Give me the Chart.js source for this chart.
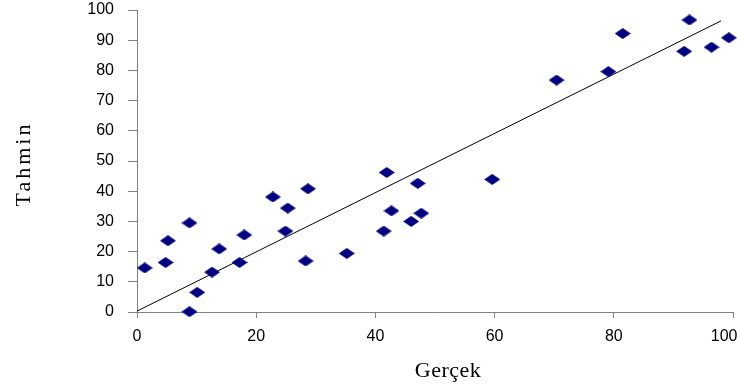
<!DOCTYPE html>
<html>
<head>
<meta charset="utf-8">
<script src="https://cdn.jsdelivr.net/npm/chart.js@4/dist/chart.umd.min.js"></script>
<style>
    html, body { margin: 0; padding: 0; overflow: hidden; background: #fff; }
    #wrap { width: 746px; height: 390px; }
</style>
</head>
<body>
<div id="wrap"><canvas id="chart"></canvas></div>
<script>
// values
const gercek = [1.3, 4.8, 5.2, 8.8, 8.8, 10.1, 12.6, 13.8, 17.2, 18.0, 22.8, 25.3, 24.9, 28.7, 28.3,
    35.2, 41.9, 47.1, 42.7, 47.7, 46.0, 41.4, 59.6, 70.4, 79.1, 81.5, 92.7, 91.8, 96.4, 99.3];
const tahmin = [14.6, 16.4, 23.6, 29.5, 0.1, 6.5, 13.2, 20.9, 16.4, 25.5, 38.1, 34.4, 26.8, 40.8, 16.9,
    19.4, 46.2, 42.6, 33.5, 32.7, 30.0, 26.8, 43.9, 76.8, 79.6, 92.2, 96.7, 86.3, 87.7, 90.8];
const trendX = [0, 98];
const trendY = [0.3, 96.4];
const xTicks = [0, 20, 40, 60, 80, 100];
const yTicks = [0, 10, 20, 30, 40, 50, 60, 70, 80, 90, 100];

// flat diamond marker
function diamond() {
    const c = document.createElement('canvas');
    c.width = 16; c.height = 11;
    const g = c.getContext('2d');
    g.fillStyle = '#000080';
    g.beginPath();
    g.moveTo(0, 5.5); g.lineTo(8, 0); g.lineTo(16, 5.5); g.lineTo(8, 11);
    g.closePath();
    g.fill();
    return c;
}

const axisTitles = {
    id: 'axisTitles',
    afterDraw(chart) {
        const ctx = chart.ctx;
        ctx.save();
        ctx.fillStyle = '#000';
        ctx.font = '22px "Liberation Serif", "Times New Roman", serif';
        ctx.textAlign = 'center';
        ctx.textBaseline = 'alphabetic';
        ctx.letterSpacing = '0.5px';
        ctx.fillText('Gerçek', 448, 377);
        ctx.translate(30, 166);
        ctx.rotate(-Math.PI / 2);
        ctx.letterSpacing = '3px';
        ctx.fillText('Tahmin', 2, 0);
        ctx.restore();
    }
};

const tickFont = {family: '"Liberation Sans", Arial, sans-serif', size: 16};

new Chart(document.getElementById('chart'), {
    type: 'scatter',
    data: {
        datasets: [{
            data: gercek.map((x, i) => ({x: x, y: tahmin[i]})),
            pointStyle: diamond(),
            pointRadius: 8,
            pointHoverRadius: 8,
            clip: false
        }, {
            type: 'line',
            data: trendX.map((x, i) => ({x: x, y: trendY[i]})),
            borderColor: '#000',
            borderWidth: 1,
            pointRadius: 0,
            fill: false
        }]
    },
    options: {
        responsive: true,
        maintainAspectRatio: false,
        animation: false,
        layout: {autoPadding: false, padding: {left: 87, top: 0, right: 0, bottom: 44}},
        plugins: {legend: {display: false}, tooltip: {enabled: false}},
        scales: {
            x: {
                type: 'linear', min: 0, max: 100,
                afterBuildTicks: s => { s.ticks = xTicks.map(v => ({value: v})); },
                afterFit: s => { s.height = 34; s.paddingLeft = 0; s.paddingRight = 13; },
                ticks: {
                    color: '#000', font: tickFont, padding: 9, maxRotation: 0,
                    // last label sits left of its tick, as in the original
                    callback: v => v === 100 ? '100\u00a0\u00a0\u00a0\u00a0' : String(v)
                },
                grid: {drawOnChartArea: false, tickLength: 6, color: '#808080'},
                border: {color: '#808080', width: 1}
            },
            y: {
                type: 'linear', min: 0, max: 100,
                afterBuildTicks: s => { s.ticks = yTicks.map(v => ({value: v})); },
                afterFit: s => { s.width = 50; s.paddingTop = 10; s.paddingBottom = 0; },
                ticks: {color: '#000', font: tickFont, padding: 14},
                grid: {drawOnChartArea: false, tickLength: 9, color: '#808080'},
                border: {color: '#808080', width: 1}
            }
        }
    },
    plugins: [axisTitles]
});
</script>
</body>
</html>
